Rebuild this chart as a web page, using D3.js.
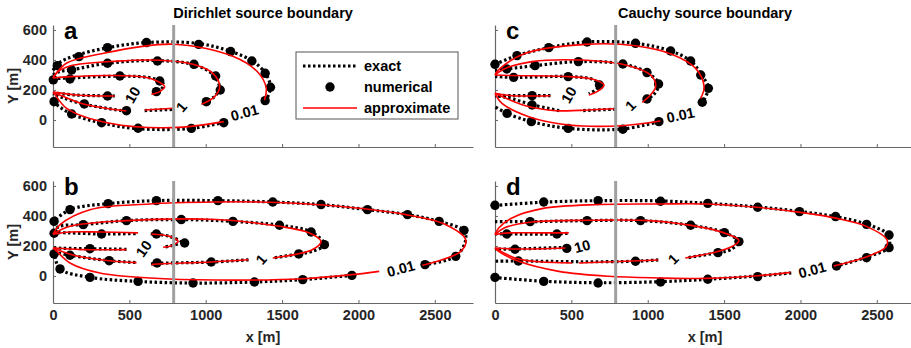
<!DOCTYPE html>
<html>
<head>
<meta charset="utf-8">
<script src="https://cdn.jsdelivr.net/npm/d3@7/dist/d3.min.js"></script>
<style>
  body { margin: 0; background: #fff; }
  svg text { font-family: "Liberation Sans", Arial, sans-serif; font-weight: bold; }
</style>
</head>
<body>
<svg id="chart" width="911" height="348"></svg>
<script>
// contour levels: 0.01 (outer), 1 (middle), 10 (inner); each entry is one drawn piece [x m, y m]
var exactA = [
  [[0,330],[40,380],[133,425],[360,482],[612,516],[950,510],[1160,458],[1300,396],[1388,315],[1424,220],[1392,125]],
  [[1120,-15],[906,-56],[557,-58],[318,-20],[122,40],[10,118],[0,150]],
  [[0,300],[40,322],[125,335],[357,378],[684,396],[923,368],[1050,300],[1090,211],[1050,150],[1004,122]],
  [[780,70],[600,63]],
  [[481,58],[205,105],[60,150],[0,175]],
  [[0,275],[111,280],[438,292],[640,280],[720,245],[710,205],[677,189]],
  [[405,160],[155,166],[0,180]]
];
var approxA = [
  [[0,280],[13,300],[90,380],[307,440],[786,505],[1177,425],[1340,320],[1396,215],[1385,133]],
  [[1118,-11],[786,-51],[372,-22],[89,78],[7,178],[0,185]],
  [[0,280],[30,320],[111,360],[416,392],[699,398],[917,371],[1047,311],[1091,222],[1058,156],[971,104]],
  [[786,78],[601,67]],
  [[481,60],[198,107],[60,160],[0,185]],
  [[0,280],[111,289],[416,296],[634,278],[731,222],[699,189],[644,171]],
  [[405,160],[155,167],[13,185],[0,187]]
];
var dotsA = [
  [2,267],[28,362],[170,422],[357,482],[612,516],[954,504],[1163,456],[1302,393],[1389,311],[1424,218],[1389,129],
  [1118,-18],[906,-56],[557,-55],[318,-18],[122,40],[7,122],
  [122,333],[357,378],[684,393],[923,371],[1065,293],[1095,200],[1004,122],[481,62],[205,107],
  [111,273],[438,293],[699,260],[677,189],[357,160]
];
var labelsA = [["10",522,167],["1",841,87],["0.01",1254,49]];

var exactC = [
  [[0,371],[144,429],[352,482],[603,520],[920,511],[1150,460],[1281,393],[1353,300],[1397,211],[1357,118]],
  [[1073,-11],[837,-60],[483,-56],[238,-11],[79,44],[0,89]],
  [[0,330],[77,340],[262,362],[546,389],[837,373],[995,316],[1071,240],[1040,170],[995,140]],
  [[790,72],[560,62]],
  [[420,62],[250,100],[80,150],[0,160]],
  [[0,290],[122,284],[479,289],[640,270],[684,233],[660,200],[614,175]],
  [[363,162],[243,162],[111,162],[0,165]]
];
var approxC = [
  [[0,300],[30,340],[199,444],[592,504],[920,495],[1161,437],[1314,344],[1369,222],[1347,144]],
  [[1084,-7],[833,-38],[483,-33],[221,22],[46,111],[0,178]],
  [[0,300],[60,340],[243,389],[549,400],[855,367],[1019,300],[1052,222],[1008,156],[964,118]],
  [[780,75],[550,64],[400,62],[200,95],[60,150],[0,178]],
  [[0,300],[111,296],[483,289],[658,267],[713,233],[669,189],[614,167]],
  [[363,162],[111,162],[0,178]]
];
var dotsC = [
  [0,371],[144,429],[352,482],[603,520],[920,511],[1150,460],[1281,393],[1347,300],[1397,211],[1357,118],
  [1073,-11],[837,-62],[479,-56],[238,-11],[79,44],
  [77,340],[262,362],[546,389],[837,373],[995,316],[1071,240],[995,140],[243,100],
  [122,284],[479,289],[684,233],[243,162]
];
var labelsC = [["10",483,167],["1",887,96],["0.01",1215,33]];

var exactB = [
  [[0,350],[7,364],[111,442],[361,482],[677,502],[1080,502],[1439,493],[1755,476],[2059,442],[2321,409],[2528,364],[2691,300],[2700,230],[2637,131],[2436,76]],
  [[1957,4],[1635,-24],[1319,-40],[917,-47],[557,-36],[242,-9],[46,47],[7,147],[0,160]],
  [[0,295],[40,330],[198,342],[481,369],[840,376],[1178,364],[1483,338],[1690,293],[1777,209],[1700,165],[1609,147],[1440,120]],
  [[1280,108],[1036,93],[681,84],[640,80]],
  [[540,90],[368,102],[111,138],[0,160]],
  [[0,290],[111,287],[318,280],[557,283]],
  [[640,281],[764,264],[835,225],[775,202],[721,191]],
  [[481,178],[242,182],[13,187],[0,190]]
];
var approxB = [
  [[0,278],[46,342],[242,442],[634,480],[1069,493],[1352,493],[1790,471],[2310,409],[2572,342],[2702,242],[2670,164],[2418,71]],
  [[2136,31],[1959,9],[1635,-18],[1069,-27],[634,-13],[307,20],[111,87],[13,176],[0,185]],
  [[0,278],[111,331],[481,369],[1069,376],[1483,331],[1679,287],[1755,231],[1700,176],[1439,120]],
  [[1280,108],[1036,93],[681,80],[645,76]],
  [[547,89],[368,102],[150,135],[0,185]],
  [[0,278],[111,293],[307,293],[557,287]],
  [[644,280],[764,264],[819,231],[775,202],[721,191]],
  [[481,176],[198,176],[13,187],[0,187]]
];
var dotsB = [
  [7,364],[111,442],[361,482],[677,502],[1080,502],[1439,493],[1755,476],[2059,442],[2321,409],[2528,364],[2691,304],[2637,131],[2436,76],
  [1957,4],[1635,-24],[1319,-40],[917,-47],[557,-36],[242,-9],[46,47],[7,147],
  [198,342],[481,369],[840,376],[1178,364],[1483,338],[1690,293],[1777,209],[1609,147],[1036,93],[681,87],[368,102],[111,138],
  [7,285],[318,280],[677,280],[862,220],[242,182]
];
var labelsB = [["10",594,182],["1",1363,111],["0.01",2278,49]];

var exactD = [
  [[0,470],[319,492],[675,502],[1084,500],[1393,484],[1720,460],[1994,430],[2230,395],[2433,345],[2570,280],[2585,230],[2570,185],[2433,125],[2236,67]],
  [[1940,20],[1720,0],[1393,-22],[1084,-38],[675,-45],[319,-35],[0,-10]],
  [[0,362],[230,362],[603,369],[953,369],[1281,338],[1502,289],[1597,229],[1541,175],[1460,156],[1250,120]],
  [[1069,107],[920,98],[549,95],[153,100],[0,98]],
  [[0,280],[79,280],[405,280],[483,285]],
  [[466,191],[131,180],[0,180]]
];
var approxD = [
  [[0,276],[24,320],[111,387],[308,449],[680,476],[1073,480],[1388,480],[1714,458],[1998,424],[2238,384],[2435,329],[2567,240],[2558,191],[2435,129],[2217,67]],
  [[1935,24],[1720,2],[1388,-16],[1073,-13],[745,-2],[418,31],[155,98],[24,164],[0,187]],
  [[0,276],[60,320],[243,360],[637,371],[1008,369],[1358,324],[1520,280],[1597,236],[1541,191],[1453,162],[1246,120]],
  [[1069,107],[549,87]],
  [[505,87],[155,113],[0,187]],
  [[0,276],[90,287],[308,287],[483,287]],
  [[461,187],[133,180],[0,187]]
];
var dotsD = [
  [0,471],[319,493],[675,502],[1084,498],[1393,484],[1720,458],[1994,429],[2230,396],[2433,344],[2580,273],[2580,189],[2433,122],[2236,67],
  [1720,-4],[1393,-22],[1084,-40],[675,-47],[319,-36],[0,-9],
  [230,362],[603,369],[953,369],[1281,338],[1502,289],[1597,229],[1460,156],[920,98],[153,100],
  [77,280],[405,280],[131,178],[470,184]
];
var labelsD = [["10",571,198],["1",1167,113],["0.01",2077,40]];

var xTicks = [0,500,1000,1500,2000,2500];
var yTicks = [0,200,400,600];
var sourceEdge = 790; // gray line, x [m]
var legendItems = ["exact","numerical","approximate"];

var svg = d3.select("#chart");

var panels = [
  {id:"a", left:53, top:25, exact:exactA, approx:approxA, dots:dotsA, labels:labelsA, tilt:[-60,-50,-15], yLab:true, xLab:false},
  {id:"c", left:495, top:25, exact:exactC, approx:approxC, dots:dotsC, labels:labelsC, tilt:[-60,-45,-12], yLab:false, xLab:false},
  {id:"b", left:53, top:181, exact:exactB, approx:approxB, dots:dotsB, labels:labelsB, tilt:[-55,-50,-15], yLab:true, xLab:true},
  {id:"d", left:495, top:181, exact:exactD, approx:approxD, dots:dotsD, labels:labelsD, tilt:[-15,-45,-15], yLab:false, xLab:true}
];

var W = 420, H = 122;
var dotted = "2.5,2.5";

panels.forEach(function(p){
  var x = d3.scaleLinear().domain([0,2750]).range([p.left, p.left+W]);
  var y = d3.scaleLinear().domain([-180,633]).range([p.top+H, p.top]);
  var line = d3.line().x(function(d){return x(d[0])}).y(function(d){return y(d[1])})
    .curve(d3.curveCatmullRom.alpha(0.5));
  var g = svg.append("g");

  // axes
  var xa = g.append("g").attr("transform","translate(0,"+(p.top+H)+")")
    .call(d3.axisBottom(x).tickValues(xTicks).tickSize(-3).tickSizeOuter(0).tickPadding(7)
      .tickFormat(p.xLab ? d3.format("d") : function(){return ""}));
  var ya = g.append("g").attr("transform","translate("+p.left+",0)")
    .call(d3.axisLeft(y).tickValues(yTicks).tickSize(-3).tickSizeOuter(0).tickPadding(6)
      .tickFormat(p.yLab ? d3.format("d") : function(){return ""}));
  [xa,ya].forEach(function(a){
    a.select(".domain").attr("stroke","#666").attr("stroke-width",1.2);
    a.selectAll(".tick line").attr("stroke","#666");
    a.selectAll("text").attr("fill","#262626").style("font-size","14.5px")
      .style("font-family","'Liberation Sans', Arial, sans-serif").style("font-weight","bold");
  });

  // exact: dotted black
  g.selectAll("path.exact").data(p.exact).enter().append("path")
    .attr("class","exact").attr("d",line).attr("fill","none")
    .attr("stroke","#000").attr("stroke-width",3.2).attr("stroke-dasharray",dotted);
  // numerical: dots
  g.selectAll("circle.num").data(p.dots).enter().append("circle")
    .attr("class","num").attr("cx",function(d){return x(d[0])}).attr("cy",function(d){return y(d[1])})
    .attr("r",4.7).attr("fill","#000");
  // approximate: red
  g.selectAll("path.approx").data(p.approx).enter().append("path")
    .attr("class","approx").attr("d",line).attr("fill","none")
    .attr("stroke","#ff0000").attr("stroke-width",1.6);

  // source boundary marker
  g.append("line").attr("x1",x(sourceEdge)).attr("x2",x(sourceEdge))
    .attr("y1",p.top).attr("y2",p.top+H).attr("stroke","#a0a0a0").attr("stroke-width",3);

  // contour labels
  g.selectAll("text.clab").data(p.labels).enter().append("text")
    .attr("class","clab")
    .attr("transform",function(d,i){return "translate("+x(d[1])+","+y(d[2])+") rotate("+p.tilt[i]+")"})
    .attr("text-anchor","middle").attr("dy","0.35em")
    .style("font-size","14.5px").attr("fill","#000").text(function(d){return d[0]});

  g.append("text").attr("x",p.left+11).attr("y",p.top+14).style("font-size","24px")
    .attr("fill","#000").text(p.id);

  if(p.yLab){
    g.append("text").attr("transform","translate(18,"+(p.top+H/2)+") rotate(-90)")
      .attr("text-anchor","middle").style("font-size","14.5px").attr("fill","#262626").text("Y [m]");
  }
  if(p.xLab){
    g.append("text").attr("x",p.left+W/2).attr("y",p.top+H+39)
      .attr("text-anchor","middle").style("font-size","14.5px").attr("fill","#262626").text("x [m]");
  }
});

svg.append("text").attr("x",263).attr("y",18).attr("text-anchor","middle")
  .style("font-size","14.5px").attr("fill","#000").text("Dirichlet source boundary");
svg.append("text").attr("x",705).attr("y",18).attr("text-anchor","middle")
  .style("font-size","14.5px").attr("fill","#000").text("Cauchy source boundary");

// legend
var lg = svg.append("g").attr("transform","translate(296,52)");
lg.append("rect").attr("width",162).attr("height",67).attr("fill","#fff")
  .attr("stroke","#555").attr("stroke-width",1);
legendItems.forEach(function(name,i){
  var cy = 14 + i*21;
  if(i==0){
    lg.append("line").attr("x1",7).attr("x2",61).attr("y1",cy).attr("y2",cy)
      .attr("stroke","#000").attr("stroke-width",3.2).attr("stroke-dasharray",dotted);
  } else if(i==1){
    lg.append("circle").attr("cx",34).attr("cy",cy).attr("r",4.7).attr("fill","#000");
  } else {
    lg.append("line").attr("x1",7).attr("x2",61).attr("y1",cy).attr("y2",cy)
      .attr("stroke","#ff0000").attr("stroke-width",1.6);
  }
  lg.append("text").attr("x",68).attr("y",cy).attr("dy","0.35em")
    .style("font-size","14.5px").attr("fill","#000").text(name);
});
</script>
</body>
</html>
